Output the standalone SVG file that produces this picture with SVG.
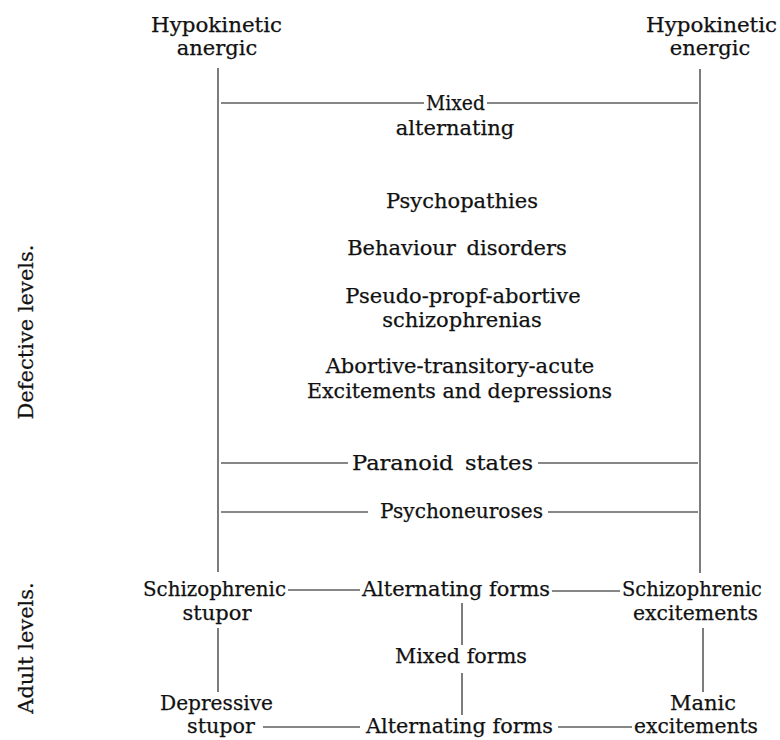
<svg xmlns="http://www.w3.org/2000/svg" width="780" height="740" viewBox="0 0 780 740">
<style>
text{font-family:"DejaVu Serif","Liberation Serif",serif;font-size:21px;fill:#111;stroke:#111;stroke-width:0.25;}
.m{text-anchor:middle;}
.c line{stroke:#111;stroke-width:1.1;}
</style>
<rect width="780" height="740" fill="#fff"/>
<g class="c" id="connectors">
<line x1="218" y1="68" x2="218" y2="572"/>
<line x1="700" y1="69" x2="700" y2="573"/>
<line x1="221" y1="103" x2="424" y2="103"/>
<line x1="487" y1="103" x2="698" y2="103"/>
<line x1="221" y1="463" x2="348" y2="463"/>
<line x1="538" y1="463" x2="698" y2="463"/>
<line x1="221" y1="512" x2="368" y2="512"/>
<line x1="548" y1="512" x2="698" y2="512"/>
<line x1="288" y1="590" x2="360" y2="590"/>
<line x1="552" y1="591" x2="620" y2="591"/>
<line x1="218" y1="628" x2="218" y2="692"/>
<line x1="703" y1="628" x2="703" y2="692"/>
<line x1="462" y1="603" x2="462" y2="645"/>
<line x1="462" y1="673" x2="462" y2="715"/>
<line x1="263" y1="727" x2="360" y2="727"/>
<line x1="558" y1="727" x2="632" y2="727"/>
</g>
<g id="hypokinetic-anergic"><text x="151" y="32" textLength="131" lengthAdjust="spacingAndGlyphs">Hypokinetic</text><text class="m" x="217" y="55">anergic</text></g>
<g id="hypokinetic-energic"><text x="646" y="32" textLength="131" lengthAdjust="spacingAndGlyphs">Hypokinetic</text><text class="m" x="710" y="55">energic</text></g>
<g id="mixed-alternating"><text x="426" y="110" textLength="59" lengthAdjust="spacingAndGlyphs">Mixed</text><text class="m" x="455" y="135">alternating</text></g>
<g id="psychopathies"><text class="m" x="462" y="208">Psychopathies</text></g>
<g id="behaviour-disorders"><text class="m" x="457" y="255" word-spacing="4">Behaviour disorders</text></g>
<g id="pseudo-propf"><text class="m" x="463" y="303">Pseudo-propf-abortive</text><text class="m" x="462" y="327">schizophrenias</text></g>
<g id="abortive"><text class="m" x="460" y="373">Abortive-transitory-acute</text><text x="307" y="398" textLength="305" lengthAdjust="spacingAndGlyphs">Excitements and depressions</text></g>
<g id="paranoid-states"><text x="352" y="470" word-spacing="4" textLength="181" lengthAdjust="spacingAndGlyphs">Paranoid states</text></g>
<g id="psychoneuroses"><text x="380" y="518" textLength="163" lengthAdjust="spacingAndGlyphs">Psychoneuroses</text></g>
<g id="schizophrenic-stupor"><text x="143" y="596" textLength="143" lengthAdjust="spacingAndGlyphs">Schizophrenic</text><text class="m" x="217" y="620">stupor</text></g>
<g id="alternating-forms-1"><text x="362" y="596" textLength="188" lengthAdjust="spacingAndGlyphs">Alternating forms</text></g>
<g id="schizophrenic-excitements"><text x="622" y="596" textLength="140" lengthAdjust="spacingAndGlyphs">Schizophrenic</text><text x="633" y="620" textLength="125" lengthAdjust="spacingAndGlyphs">excitements</text></g>
<g id="mixed-forms"><text x="395" y="663" textLength="132" lengthAdjust="spacingAndGlyphs">Mixed forms</text></g>
<g id="depressive-stupor"><text x="160" y="710" textLength="113" lengthAdjust="spacingAndGlyphs">Depressive</text><text x="187" y="733" textLength="68" lengthAdjust="spacingAndGlyphs">stupor</text></g>
<g id="alternating-forms-2"><text x="366" y="733" textLength="187" lengthAdjust="spacingAndGlyphs">Alternating forms</text></g>
<g id="manic-excitements"><text class="m" x="703" y="710">Manic</text><text x="634" y="733" textLength="124" lengthAdjust="spacingAndGlyphs">excitements</text></g>
<g id="defective-levels"><text class="m" transform="translate(33,332) rotate(-90)">Defective levels.</text></g>
<g id="adult-levels"><text class="m" transform="translate(33,648) rotate(-90)">Adult levels.</text></g>
</svg>
